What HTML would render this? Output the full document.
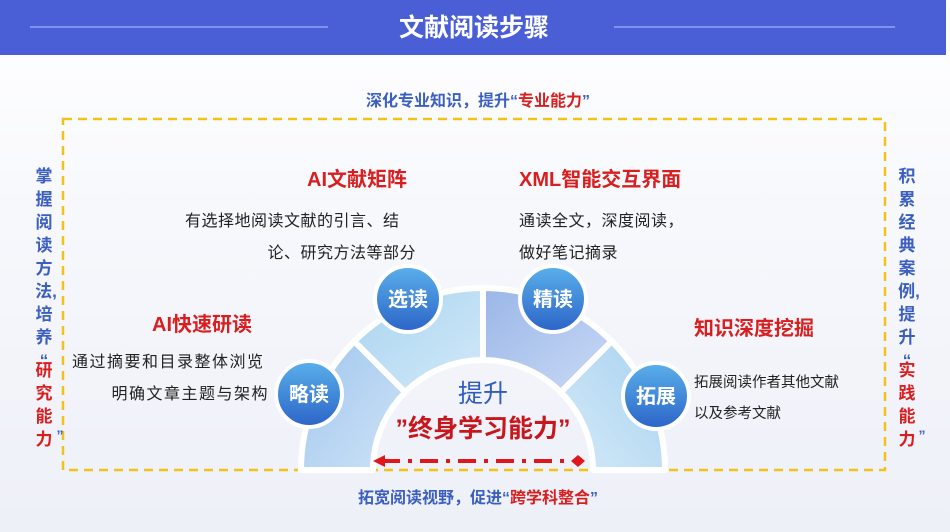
<!DOCTYPE html>
<html><head><meta charset="utf-8"><style>
body{margin:0;width:950px;height:532px;overflow:hidden;background:linear-gradient(#fff 0%,#f7f8fc 40%,#eef0f8 100%);font-family:"Liberation Sans","Noto Sans CJK SC",sans-serif;}
</style></head><body>
<svg width="950" height="532" xmlns="http://www.w3.org/2000/svg" style="position:absolute;left:0;top:0;font-family:'Liberation Sans','Noto Sans CJK SC',sans-serif">
<defs>
<linearGradient id="cg" x1="0" y1="0" x2="0" y2="1"><stop offset="0" stop-color="#5ab0ea"/><stop offset="1" stop-color="#2c64c8"/></linearGradient>
<linearGradient id="s1" x1="0" y1="0" x2="1" y2="1"><stop offset="0" stop-color="#9fc6ee"/><stop offset="1" stop-color="#cfe3f6"/></linearGradient>
<linearGradient id="s2" x1="0" y1="0" x2="1" y2="1"><stop offset="0" stop-color="#a8d4f0"/><stop offset="1" stop-color="#d3e9f8"/></linearGradient>
<linearGradient id="s3" x1="0" y1="0" x2="1" y2="1"><stop offset="0" stop-color="#9ab6e8"/><stop offset="1" stop-color="#c9daf5"/></linearGradient>
<linearGradient id="s4" x1="1" y1="0" x2="0" y2="1"><stop offset="0" stop-color="#a7d2f0"/><stop offset="1" stop-color="#d5eaf8"/></linearGradient>
</defs>
<rect x="0" y="0" width="946" height="55" fill="#4a5fd6"/>
<line x1="30" y1="27" x2="328" y2="27" stroke="#7f93ee" stroke-width="2"/>
<line x1="614" y1="27" x2="895" y2="27" stroke="#7f93ee" stroke-width="2"/>
<text x="474" y="36" font-size="25" font-weight="bold" fill="#fff" text-anchor="middle">文献阅读步骤</text>
<rect x="63" y="119" width="822" height="351" fill="none" stroke="#f2c21a" stroke-width="2.5" stroke-dasharray="9,6"/>
<text x="478" y="106" font-size="16" fill="#3b5fc0" text-anchor="middle" font-weight="bold">深化专业知识，提升“<tspan fill="#d81e1e">专业能力</tspan>”</text>
<text x="478" y="503" font-size="16" fill="#3b5fc0" text-anchor="middle" font-weight="bold">拓宽阅读视野，促进“<tspan fill="#d81e1e">跨学科整合</tspan>”</text>
<g font-size="17" font-weight="bold" text-anchor="middle" fill="#3b5fc0">
<text x="44" y="182">掌</text><text x="44" y="205">握</text><text x="44" y="228">阅</text><text x="44" y="251">读</text><text x="44" y="274">方</text><text x="46" y="297">法,</text><text x="44" y="320">培</text><text x="44" y="343">养</text><text x="44" y="366">“</text>
<text x="44" y="376" fill="#d81e1e">研</text><text x="44" y="399" fill="#d81e1e">究</text><text x="44" y="422" fill="#d81e1e">能</text><text x="44" y="445" fill="#d81e1e">力</text><text x="60" y="440" font-size="14">”</text>
<text x="907" y="182">积</text><text x="907" y="205">累</text><text x="907" y="228">经</text><text x="907" y="251">典</text><text x="907" y="274">案</text><text x="909" y="297">例,</text><text x="907" y="320">提</text><text x="907" y="343">升</text><text x="907" y="366">“</text>
<text x="907" y="376" fill="#d81e1e">实</text><text x="907" y="399" fill="#d81e1e">践</text><text x="907" y="422" fill="#d81e1e">能</text><text x="907" y="445" fill="#d81e1e">力</text><text x="922" y="440" font-size="14">”</text>
</g>
<g stroke="#fff" stroke-width="6" stroke-linejoin="round">
<path d="M301,470 A182,182 0 0 1 354.3,341.3 L405.2,392.2 A110,110 0 0 0 373,470 Z" fill="url(#s1)"/>
<path d="M354.3,341.3 A182,182 0 0 1 483,288 L483,360 A110,110 0 0 0 405.2,392.2 Z" fill="url(#s2)"/>
<path d="M483,288 A182,182 0 0 1 611.7,341.3 L560.8,392.2 A110,110 0 0 0 483,360 Z" fill="url(#s3)"/>
<path d="M611.7,341.3 A182,182 0 0 1 665,470 L593,470 A110,110 0 0 0 560.8,392.2 Z" fill="url(#s4)"/>
</g>
<g stroke="#fff" stroke-width="4">
<circle cx="309" cy="394" r="33" fill="url(#cg)"/>
<circle cx="408" cy="299" r="33" fill="url(#cg)"/>
<circle cx="553" cy="299" r="33" fill="url(#cg)"/>
<circle cx="656" cy="396" r="33" fill="url(#cg)"/>
</g>
<g font-size="20" font-weight="bold" fill="#fff" text-anchor="middle">
<text x="309" y="401">略读</text><text x="408" y="306">选读</text><text x="553" y="306">精读</text><text x="656" y="403">拓展</text>
</g>
<text x="483" y="402" font-size="25" fill="#2f5cc0" text-anchor="middle">提升</text>
<text x="483" y="437" font-size="25" font-weight="bold" fill="#c8161d" text-anchor="middle">”终身学习能力”</text>
<line x1="382" y1="461" x2="570" y2="461" stroke="#e0161d" stroke-width="4" stroke-dasharray="18,8,4,8"/>
<path d="M373,461 L385,455 L385,467 Z" fill="#e0161d"/>
<path d="M571,461 L578,455 L585,461 L578,467 Z" fill="#e0161d"/>
<g font-size="20" font-weight="bold" fill="#d81e1e">
<text x="357" y="186" text-anchor="middle">AI文献矩阵</text>
<text x="519" y="186">XML智能交互界面</text>
<text x="152" y="331">AI快速研读</text>
<text x="694" y="335">知识深度挖掘</text>
</g>
<g font-size="16" fill="#222" letter-spacing="0.5">
<text x="185" y="226">有选择地阅读文献的引言、结</text>
<text x="416" y="258" text-anchor="end">论、研究方法等部分</text>
<text x="519" y="226">通读全文，深度阅读，</text>
<text x="519" y="258">做好笔记摘录</text>
<text x="72" y="367" letter-spacing="1.5">通过摘要和目录整体浏览</text>
<text x="269" y="399" text-anchor="end" letter-spacing="1.5">明确文章主题与架构</text>
<text x="694" y="387" font-size="14.5" letter-spacing="0">拓展阅读作者其他文献</text>
<text x="694" y="418" font-size="14.5" letter-spacing="0">以及参考文献</text>
</g>
</svg>
</body></html>
